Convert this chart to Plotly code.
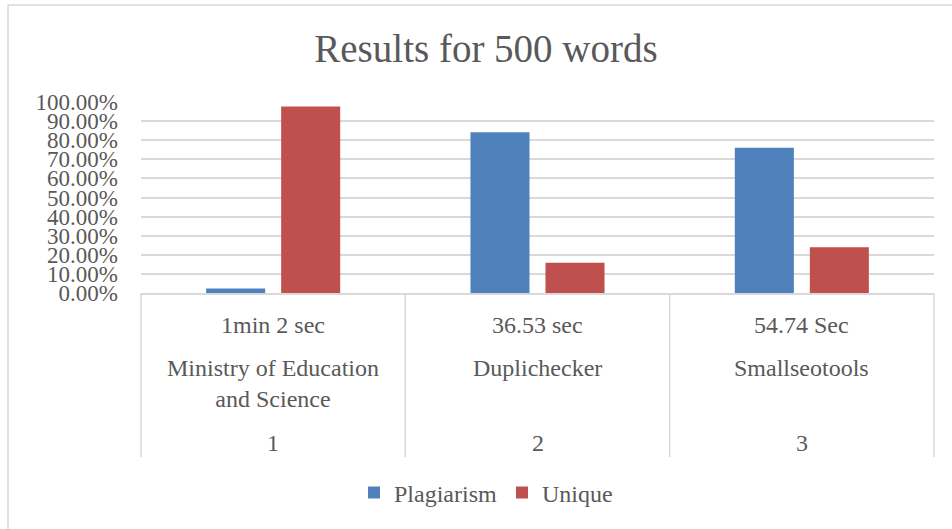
import plotly.graph_objects as go

# ---- data ----
tools = ["Ministry of Education<br>and Science", "Duplichecker", "Smallseotools"]
times = ["1min 2 sec", "36.53 sec", "54.74 Sec"]
numbers = ["1", "2", "3"]
plagiarism = [0.023, 0.841, 0.760]
unique = [0.977, 0.159, 0.240]
y_ticks = [0, 0.1, 0.2, 0.3, 0.4, 0.5, 0.6, 0.7, 0.8, 0.9, 1.0]

FONT = "Liberation Serif"
TXT = "#595959"
GRID = "#D9D9D9"
BLUE = "#4F81BD"
RED = "#C0504D"

fig = go.Figure()
fig.add_trace(go.Bar(name="Plagiarism", x=tools, y=plagiarism, marker=dict(color=BLUE, line=dict(width=0))))
fig.add_trace(go.Bar(name="Unique", x=tools, y=unique, marker=dict(color=RED, line=dict(width=0))))

annotations = []
for name, t, n in zip(tools, times, numbers):
    annotations.append(dict(x=name, xref="x", y=0, yref="paper", text=t, showarrow=False,
                            yanchor="middle", yshift=-32, font=dict(family=FONT, size=24, color=TXT)))
    annotations.append(dict(x=name, xref="x", y=0, yref="paper", text=name, showarrow=False,
                            yanchor="top", yshift=-60, font=dict(family=FONT, size=24, color=TXT)))
    annotations.append(dict(x=name, xref="x", y=0, yref="paper", text=n, showarrow=False,
                            yanchor="middle", yshift=-150, font=dict(family=FONT, size=24, color=TXT)))

shapes = []
# category separators below the axis
for xp in [0, 1/3, 2/3, 1]:
    shapes.append(dict(type="line", xref="paper", yref="paper", x0=xp, x1=xp, y0=0, y1=-0.8586,
                       line=dict(color=GRID, width=1.5)))
# outer chart border
shapes.append(dict(type="rect", xref="paper", yref="paper", x0=-0.1677, x1=1.05, y0=-1.4, y1=1.508,
                   line=dict(color=GRID, width=1.5), fillcolor="rgba(0,0,0,0)", layer="below"))

fig.update_layout(
    width=952, height=529,
    margin=dict(l=141, r=18, t=102, b=236),
    paper_bgcolor="white", plot_bgcolor="white",
    barmode="group", bargap=0.4325, bargroupgap=0.213,
    title=dict(text="Results for 500 words", x=486/952, xref="container", xanchor="center",
               y=1 - 48/529, yref="container", yanchor="middle",
               font=dict(family=FONT, size=39, color=TXT)),
    xaxis=dict(type="category", range=[-0.5, 2.5], showticklabels=False, showgrid=False,
               showline=True, linecolor=GRID, linewidth=1.5, ticks="", fixedrange=True),
    yaxis=dict(range=[0, 1], tickvals=y_ticks, tickformat=".2%", showgrid=True, gridcolor=GRID,
               gridwidth=1.5, zeroline=False, showline=False, ticks="", ticklabelstandoff=22,
               tickfont=dict(family=FONT, size=23, color=TXT)),
    legend=dict(orientation="h", xref="container", x=486/952, xanchor="center",
                yref="container", y=1 - 493/529, yanchor="middle",
                font=dict(family=FONT, size=24, color=TXT), itemwidth=30),
    annotations=annotations,
    shapes=shapes,
    showlegend=True,
)

fig.write_html("out.html", config={"displayModeBar": False},
               post_script="document.body.style.margin='0';document.body.style.overflow='hidden';")
